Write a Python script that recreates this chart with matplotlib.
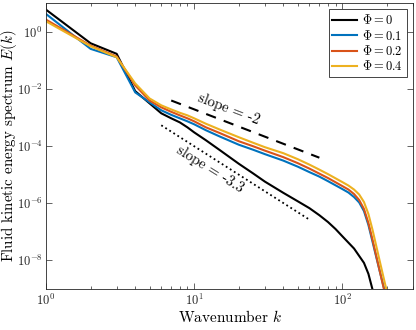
import matplotlib
matplotlib.use('Agg')
import matplotlib.pyplot as plt
from matplotlib.ticker import NullLocator, LogLocator
import numpy as np

plt.rcParams['font.family'] = 'serif'
plt.rcParams['font.serif'] = ['cmr10']
plt.rcParams['mathtext.fontset'] = 'cm'
plt.rcParams['axes.formatter.use_mathtext'] = True

k0 = [1, 2, 3, 4, 5, 6, 7, 8, 9, 10, 12, 15, 20, 25, 30, 40, 50, 60, 70, 80,
      90, 100, 120, 140, 150, 160, 170]
E0 = [5.85, 0.391, 0.167, 8.3e-3, 3.1e-3, 1.39e-3, 9.3e-4, 6.7e-4, 4.5e-4, 3.0e-4,
      1.59e-4, 7.0e-5, 2.4e-5, 1.1e-5, 5.7e-6, 2.3e-6, 1.17e-6, 6.7e-7, 3.8e-7, 2.2e-7,
      1.25e-7, 7.0e-8, 2.6e-8, 8.2e-9, 3.4e-9, 9.5e-10, 3.8e-11]

k = [1, 2, 3, 4, 5, 6, 7, 8, 9, 10, 12, 15, 20, 25, 30, 40, 50, 60, 70, 80,
     100, 110, 120, 130, 140, 150, 160, 170, 180, 190, 200]
E1 = [4.14, 0.249, 0.127, 7.5e-3, 3.36e-3, 1.77e-3, 1.23e-3, 9.3e-4, 7.3e-4, 5.75e-4,
      3.56e-4, 2.11e-4, 1.11e-4, 7.4e-5, 5.2e-5, 3.08e-5, 1.90e-5, 1.22e-5, 8.5e-6, 5.9e-6,
      3.13e-6, 2.36e-6, 1.64e-6, 1.06e-6, 5.3e-7, 1.74e-7, 4.45e-8, 1.23e-8, 3.7e-9, 1.2e-9,
      4.2e-10]
E2 = [2.62, 0.325, 0.135, 0.0131, 3.9e-3, 2.25e-3, 1.57e-3, 1.18e-3, 9.3e-4, 7.3e-4,
      4.5e-4, 2.79e-4, 1.47e-4, 9.8e-5, 6.9e-5, 4.07e-5, 2.52e-5, 1.62e-5, 1.08e-5, 7.6e-6,
      3.97e-6, 3.0e-6, 2.09e-6, 1.29e-6, 6.3e-7, 2.04e-7, 5.2e-8, 1.33e-8, 3.7e-9, 1.11e-9,
      3.6e-10]
E4 = [2.29, 0.307, 0.127, 0.0154, 4.6e-3, 2.64e-3, 1.9e-3, 1.45e-3, 1.18e-3, 9.3e-4,
      6.0e-4, 3.7e-4, 2.03e-4, 1.30e-4, 9.1e-5, 5.6e-5, 3.47e-5, 2.23e-5, 1.49e-5, 1.04e-5,
      5.48e-6, 4.14e-6, 3.0e-6, 2.01e-6, 1.10e-6, 4.2e-7, 1.16e-7, 2.98e-8, 8.2e-9, 2.47e-9,
      8.0e-10]

labels = [r'$\Phi = 0$', r'$\Phi = 0.1$', r'$\Phi = 0.2$', r'$\Phi = 0.4$']
colors = ['k', (0, 0.447, 0.741), (0.85, 0.325, 0.098), (0.929, 0.694, 0.125)]

# reference slopes
k_m2 = np.array([7, 70])
k_m33 = np.array([6, 60])
E_m2 = 3.9e-3 * (k_m2 / 7.0) ** -2
E_m33 = 5.3e-4 * (k_m33 / 6.0) ** -3.3

fig = plt.figure(figsize=(4.16, 3.3), dpi=100)
ax = fig.add_axes([46/416, 1 - 289/330, 367/416, 286/330])

ax.loglog(k0, E0, color=colors[0], lw=1.5, label=labels[0])
ax.loglog(k, E1, color=colors[1], lw=1.5, label=labels[1])
ax.loglog(k, E2, color=colors[2], lw=1.5, label=labels[2])
ax.loglog(k, E4, color=colors[3], lw=1.5, label=labels[3])
ax.loglog(k_m2, E_m2, '--', color='k', lw=1.5, dashes=(5, 4))
ax.loglog(k_m33, E_m33, ':', color='k', lw=1.3)

ax.text(17.1, 1.9e-3, 'slope = -2', rotation=-21, ha='center', va='center', fontsize=10.5)
ax.text(12.8, 1.55e-5, 'slope = -3.3', rotation=-32, ha='center', va='center', fontsize=10.5)

ax.set_xlim(1, 300)
ax.set_ylim(1e-9, 1e1)
ax.set_yticks([1e-8, 1e-6, 1e-4, 1e-2, 1e0])
ax.yaxis.set_minor_locator(NullLocator())
ax.xaxis.set_minor_locator(LogLocator(base=10, subs=np.arange(2, 10)))
ax.tick_params(which='both', direction='in', top=True, right=True, colors='0.15',
               labelcolor='0.15', labelsize=9, pad=2.5)
ax.tick_params(which='major', length=4, width=0.5)
ax.tick_params(which='minor', length=2, width=0.5)
for s in ax.spines.values():
    s.set_color('0.15')
    s.set_linewidth(0.6)

ax.set_xlabel(r'Wavenumber $k$', fontsize=11, labelpad=1)
ax.set_ylabel(r'Fluid kinetic energy spectrum $E(k)$', fontsize=10.8)
ax.yaxis.set_label_coords(-0.074, 0.5)

leg = ax.legend(loc='upper right', fontsize=9, fancybox=False, framealpha=1,
                edgecolor='0.15', handlelength=2.0, labelspacing=0.12,
                borderaxespad=0.5, handletextpad=0.4, borderpad=0.3)
leg.get_frame().set_linewidth(0.6)

fig.savefig('out.png', dpi=100)
